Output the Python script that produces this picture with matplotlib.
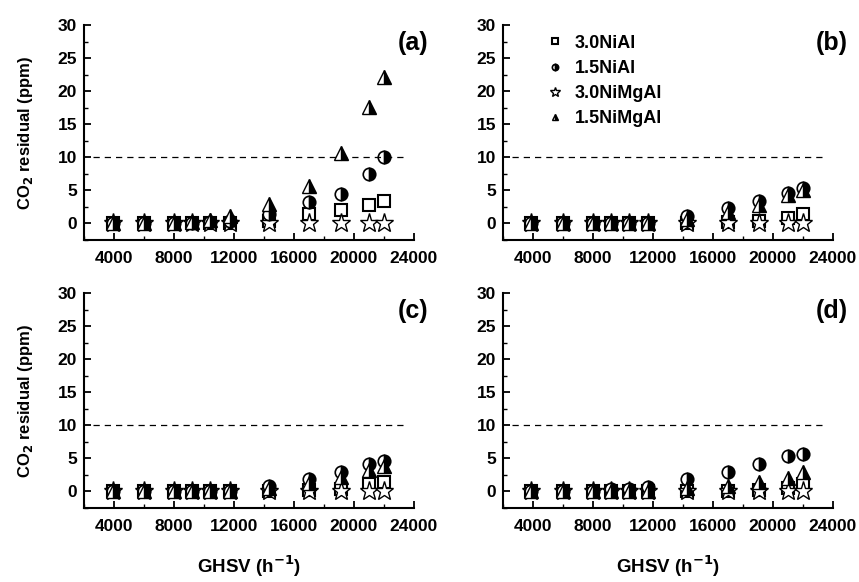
import matplotlib
matplotlib.use('Agg')
import matplotlib.pyplot as plt
from matplotlib.ticker import MultipleLocator

plt.rcParams['font.family'] = ['Liberation Sans', 'DejaVu Sans']
plt.rcParams['font.weight'] = 'bold'
plt.rcParams['mathtext.default'] = 'bf'

ghsv = [3900, 6000, 8000, 9200, 10400, 11700, 14300, 17000, 19100, 21000, 22000]
names = ['3.0NiAl', '1.5NiAl', '3.0NiMgAl', '1.5NiMgAl']
panels = ['(a)', '(b)', '(c)', '(d)']

# (a)
sq_a = [0, 0, 0, 0, 0, 0, 0.3, 1.5, 2.0, 2.8, 3.4]
ci_a = [0, 0, 0, 0, 0.2, 0.4, 1.5, 3.3, 4.5, 7.5, 10.0]
st_a = [0, 0, 0, 0, 0, 0, 0, 0, 0, 0, 0]
tr_a = [0, 0, 0, 0.2, 0.5, 1.2, 3.0, 5.6, 10.7, 17.6, 22.2]
# (b)
sq_b = [0, 0, 0, 0, 0, 0, 0, 0.2, 0.3, 0.8, 1.5]
ci_b = [0, 0, 0, 0, 0, 0, 1.2, 2.4, 3.4, 4.6, 5.3]
st_b = [0, 0, 0, 0, 0, 0, 0, 0, 0, 0, 0]
tr_b = [0, 0, 0, 0, 0, 0, 0.6, 1.8, 2.8, 4.3, 5.0]
# (c)
sq_c = [0, 0, 0, 0, 0, 0, 0, 0.2, 0.3, 1.2, 1.4]
ci_c = [0, 0, 0, 0, 0, 0, 0.8, 1.9, 3.0, 4.2, 4.6]
st_c = [0, 0, 0, 0, 0, 0, 0, 0, 0, 0, 0]
tr_c = [0, 0, 0, 0, 0, 0, 0.5, 1.3, 2.2, 3.3, 3.8]
# (d)
sq_d = [0, 0, 0, 0, 0, 0, 0, 0, 0.2, 0.5, 1.2]
ci_d = [0, 0, 0, 0.3, 0.4, 0.7, 1.9, 2.9, 4.1, 5.3, 5.7]
st_d = [0, 0, 0, 0, 0, 0, 0, 0, 0, 0, 0]
tr_d = [0, 0, 0, 0, 0, 0, 0.5, 0.9, 1.4, 2.1, 2.9]

data = [(sq_a, ci_a, st_a, tr_a), (sq_b, ci_b, st_b, tr_b),
        (sq_c, ci_c, st_c, tr_c), (sq_d, ci_d, st_d, tr_d)]

styles = [dict(marker='s', ms=8, mfc='white', mec='black', mew=1.5),
          dict(marker='o', ms=9, fillstyle='right', mfc='black', mfcalt='white', mec='black', mew=1.2),
          dict(marker='*', ms=14, mfc='white', mec='black', mew=1.0),
          dict(marker='^', ms=10, fillstyle='right', mfc='black', mfcalt='white', mec='black', mew=1.0)]
order = [0, 2, 1, 3]  # square, star, circle, triangle

fig = plt.figure(figsize=(8.59, 5.82), dpi=100)
W, H = 859, 582
boxes = [(84, 25), (503, 25), (84, 293), (503, 293)]

for k, (x0, y0) in enumerate(boxes):
    ax = fig.add_axes([x0 / W, 1 - (y0 + 215) / H, 330 / W, 215 / H])
    handles = [None] * 4
    for s in order:
        h, = ax.plot(ghsv, data[k][s], ls='none', label=names[s], **styles[s])
        handles[s] = h
    ax.plot([2600, 23300], [10, 10], ls=(0, (5, 4)), color='black', lw=0.9)
    ax.set_xlim(2000, 24000)
    ax.set_ylim(-2.5, 30)
    ax.xaxis.set_minor_locator(MultipleLocator(2000))
    ax.yaxis.set_minor_locator(MultipleLocator(2.5))
    ax.set_xticks([4000, 8000, 12000, 16000, 20000, 24000])
    ax.set_yticks([0, 5, 10, 15, 20, 25, 30])
    ax.spines['top'].set_visible(False)
    ax.spines['right'].set_visible(False)
    ax.spines['left'].set_linewidth(1.5)
    ax.spines['bottom'].set_linewidth(1.5)
    ax.tick_params(which='major', direction='in', length=5, width=1.3, labelsize=12.5, pad=8)
    ax.tick_params(which='minor', direction='in', length=3, width=1.0)
    ax.tick_params(axis='y', pad=5)
    for lb in ax.get_xticklabels() + ax.get_yticklabels():
        lb.set_fontweight('bold')
    ax.text(0.997, 0.915, panels[k], transform=ax.transAxes, ha='center', va='center',
            fontsize=18, fontweight='bold')
    if k % 2 == 0:
        ax.set_ylabel('CO$_2$ residual (ppm)', fontsize=12, fontweight='bold', labelpad=16)
    if k >= 2:
        ax.set_xlabel('GHSV (h$^{-1}$)', fontsize=13.5, fontweight='bold', labelpad=14)
    if k == 1:
        ax.legend(handles=handles, loc='upper left', bbox_to_anchor=(0.08, 1.03), frameon=False,
                  markerscale=0.5, handlelength=1.0, handletextpad=0.6,
                  labelspacing=0.45, prop={'weight': 'bold', 'size': 13})

fig.savefig('out.png', dpi=100)
